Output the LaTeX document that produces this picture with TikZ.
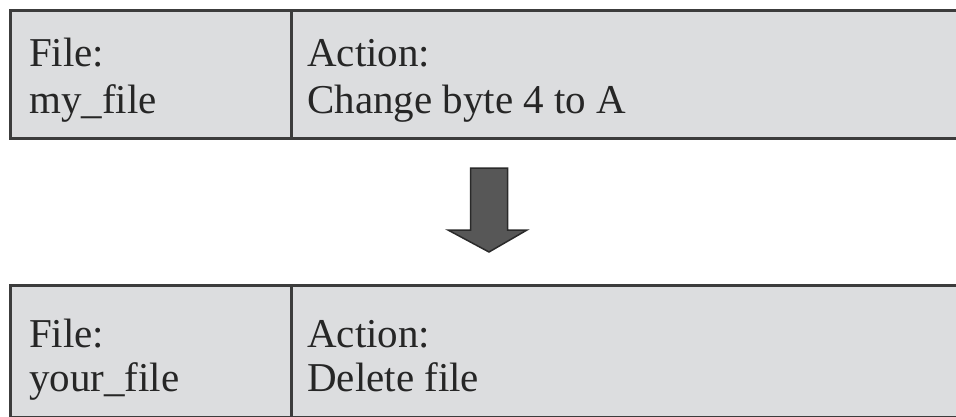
\documentclass[tikz,border=0pt]{standalone}
\usepackage{fontspec}
\setmainfont{Liberation Serif}
\definecolor{cellfill}{HTML}{DCDDDF}
\definecolor{cellline}{HTML}{3C3C3C}
\definecolor{arrowfill}{HTML}{575757}
\definecolor{arrowline}{HTML}{2A2A2A}
\tikzset{
  cell/.style={draw=cellline, fill=cellfill, line width=3pt, rectangle, inner sep=0pt, anchor=north west},
  label/.style={anchor=base west, inner sep=0pt, font=\fontsize{41}{47}\selectfont, text=black!85},
}
\begin{document}
\begin{tikzpicture}[x=1pt,y=-1pt]
\useasboundingbox (0,0) rectangle (956,416);
\clip (0,0) rectangle (956,416);
% top row
\node[cell, minimum width=281pt, minimum height=128.5pt] (f1) at (9,8.5) {};
\node[cell, minimum width=700pt, minimum height=128.5pt] (a1) at (290,8.5) {};
\node[label] (f1a) at (29,66) {File:};
\node[label] (f1b) at (29,113) {my\_file};
\node[label] (a1a) at (307,66) {Action:};
\node[label] (a1b) at (307,113) {Change byte 4 to A};
% bottom row
\node[cell, minimum width=281pt, minimum height=131.5pt] (f2) at (9,284) {};
\node[cell, minimum width=700pt, minimum height=131.5pt] (a2) at (290,284) {};
\node[label] (f2a) at (29,347) {File:};
\node[label] (f2b) at (29,391) {your\_file};
\node[label] (a2a) at (307,347) {Action:};
\node[label] (a2b) at (307,391) {Delete file};
% arrow
\coordinate (s1) at (470.5,168);
\coordinate (s2) at (507.5,168);
\coordinate (h2) at (527,230);
\coordinate (tip) at (489,252);
\coordinate (h1) at (448,230);
\draw[fill=arrowfill, draw=arrowline, line width=1.5pt, line join=miter]
  (s1) -- (s2) -- (s2 |- h2) -- (h2) -- (tip) -- (h1) -- (s1 |- h1) -- cycle;
\end{tikzpicture}
\end{document}
